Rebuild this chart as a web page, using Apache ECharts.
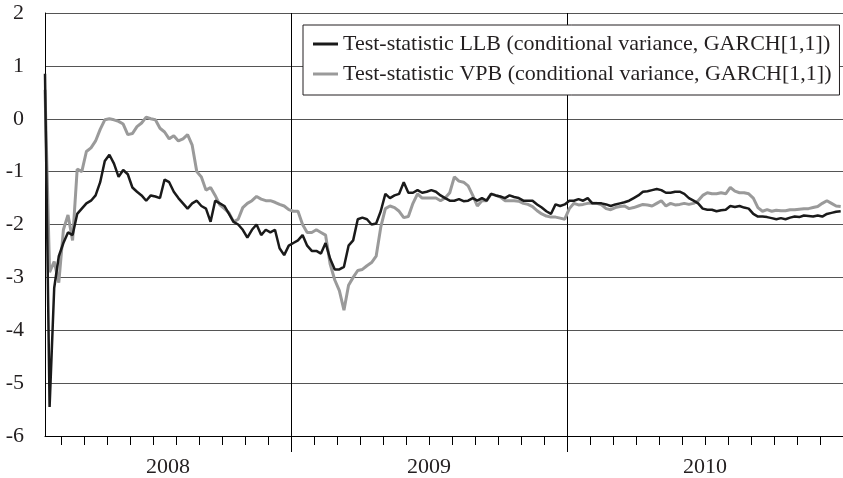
<!DOCTYPE html>
<html>
<head>
<meta charset="utf-8">
<script src="https://cdn.jsdelivr.net/npm/echarts@6/dist/echarts.min.js"></script>
<style>
    html, body {
        margin: 0;
        padding: 0;
        background: #fff;
    }
    #chart {
        width: 843px;
        height: 478px;
    }
</style>
</head>
<body>
<div id="chart"></div>
<script>
    // x runs in months counted from 1 Jan 2008; one value every 0.2 month
    const startMonth = 1.3
    const stepMonth = 0.2
    const endMonth = 36

    const years = ['2008', '2009', '2010']
    const yearStarts = [0, 12, 24]
    const monthTicks = [2, 3, 4, 5, 6, 7, 8, 9, 10, 11, 13, 14, 15, 16, 17, 18, 19, 20, 21, 22, 23,
        25, 26, 27, 28, 29, 30, 31, 32, 33, 34, 35]

    const llbName = 'Test-statistic LLB (conditional variance, GARCH[1,1])'
    const vpbName = 'Test-statistic VPB (conditional variance, GARCH[1,1])'

    const llb = [
        0.85, -5.45, -3.2, -2.6, -2.35, -2.15, -2.2, -1.8, -1.7, -1.6,
        -1.55, -1.45, -1.2, -0.8, -0.68, -0.85, -1.1, -0.97, -1.05, -1.3,
        -1.38, -1.45, -1.55, -1.45, -1.47, -1.5, -1.15, -1.2, -1.38, -1.5,
        -1.6, -1.7, -1.6, -1.55, -1.65, -1.7, -1.95, -1.55, -1.6, -1.65,
        -1.8, -1.95, -2.0, -2.1, -2.25, -2.1, -2.0, -2.2, -2.1, -2.15,
        -2.1, -2.45, -2.58, -2.4, -2.35, -2.3, -2.2, -2.4, -2.5, -2.5,
        -2.55, -2.35, -2.65, -2.85, -2.85, -2.8, -2.4, -2.3, -1.9, -1.87,
        -1.9, -2.0, -1.98, -1.75, -1.42, -1.5, -1.45, -1.42, -1.2, -1.4,
        -1.4, -1.35, -1.4, -1.38, -1.35, -1.38, -1.45, -1.5, -1.55, -1.55,
        -1.52, -1.56, -1.55, -1.5, -1.55, -1.5, -1.55, -1.42, -1.45, -1.47,
        -1.5, -1.45, -1.48, -1.5, -1.55, -1.55, -1.55, -1.62, -1.68, -1.75,
        -1.8, -1.62, -1.65, -1.62, -1.55, -1.55, -1.52, -1.55, -1.5, -1.6,
        -1.6, -1.6, -1.62, -1.65, -1.62, -1.6, -1.58, -1.55, -1.5, -1.45,
        -1.38, -1.37, -1.35, -1.33, -1.35, -1.4, -1.4, -1.38, -1.38, -1.42,
        -1.5, -1.55, -1.6, -1.7, -1.72, -1.72, -1.75, -1.73, -1.72, -1.65,
        -1.67, -1.65, -1.68, -1.7, -1.8, -1.85, -1.85, -1.86, -1.88, -1.9,
        -1.88, -1.9, -1.87, -1.85, -1.86, -1.83, -1.84, -1.85, -1.83, -1.85,
        -1.8, -1.78, -1.76, -1.75
    ]

    const vpb = [
        0.55, -2.9, -2.7, -3.1, -2.1, -1.82, -2.3, -0.95, -1.0, -0.62,
        -0.55, -0.42, -0.2, -0.02, 0.0, -0.02, -0.05, -0.1, -0.3, -0.28,
        -0.15, -0.08, 0.03, 0.0, -0.02, -0.18, -0.25, -0.38, -0.32, -0.42,
        -0.38, -0.3, -0.5, -1.0, -1.1, -1.35, -1.3, -1.45, -1.63, -1.7,
        -1.78, -1.95, -1.9, -1.68, -1.6, -1.55, -1.47, -1.52, -1.55, -1.55,
        -1.58, -1.62, -1.65, -1.72, -1.75, -1.75, -2.0, -2.15, -2.15, -2.1,
        -2.15, -2.2, -2.75, -3.05, -3.25, -3.62, -3.15, -3.0, -2.87, -2.85,
        -2.78, -2.72, -2.6, -2.05, -1.7, -1.65, -1.68, -1.75, -1.87, -1.85,
        -1.6, -1.42, -1.5, -1.5, -1.5, -1.5, -1.55, -1.5, -1.4, -1.1,
        -1.18, -1.2, -1.27, -1.45, -1.65, -1.55, -1.55, -1.42, -1.45, -1.48,
        -1.55, -1.55, -1.55, -1.56, -1.6, -1.62, -1.66, -1.74, -1.8, -1.84,
        -1.86, -1.86, -1.88, -1.9, -1.7, -1.6, -1.63, -1.62, -1.6, -1.6,
        -1.6, -1.63, -1.7, -1.72, -1.68, -1.66, -1.65, -1.7, -1.68, -1.65,
        -1.62, -1.63, -1.65, -1.6, -1.55, -1.65, -1.6, -1.63, -1.62, -1.6,
        -1.62, -1.6, -1.55, -1.45, -1.4, -1.42, -1.42, -1.4, -1.42, -1.3,
        -1.37, -1.4, -1.4, -1.42, -1.5, -1.68, -1.75, -1.72, -1.75, -1.73,
        -1.74, -1.74, -1.72, -1.72, -1.71, -1.7, -1.7, -1.68, -1.66, -1.6,
        -1.55, -1.6, -1.65, -1.66
    ]

    const font = 'Liberation Serif'
    const textColor = '#231f20'

    // [month, value] pairs
    const toPairs = arr => arr.map((v, i) => [startMonth + i * stepMonth, v])

    // year label sits in the middle of the visible part of its year
    const yearCenters = yearStarts.map(s => (Math.max(s, startMonth) + Math.min(s + 12, endMonth)) / 2)

    const chart = echarts.init(document.getElementById('chart'))
    const option = {
        animation: false,
        grid: {
            left: 45,
            right: 0,
            top: 13,
            bottom: 42
        },
        legend: {
            data: [llbName, vpbName],
            orient: 'vertical',
            left: 303,
            top: 25,
            padding: [8, 8, 10, 10],
            itemGap: 8,
            itemWidth: 25,
            itemHeight: 3,
            icon: 'rect',
            backgroundColor: '#fff',
            borderColor: '#231f20',
            borderWidth: 1,
            borderRadius: 0,
            textStyle: {
                fontFamily: font,
                fontSize: 22,
                lineHeight: 22,
                color: textColor
            }
        },
        xAxis: [
            {
                // month ticks and year labels
                type: 'value',
                min: startMonth,
                max: endMonth,
                position: 'bottom',
                axisLine: {
                    show: true,
                    onZero: false,
                    lineStyle: {color: '#000', width: 1}
                },
                axisTick: {
                    show: true,
                    inside: false,
                    length: 9,
                    customValues: monthTicks,
                    lineStyle: {color: '#000'}
                },
                axisLabel: {
                    customValues: yearCenters,
                    margin: 20,
                    fontFamily: font,
                    fontSize: 22,
                    color: textColor,
                    formatter: v => years[yearCenters.findIndex(c => Math.abs(c - v) < 1e-6)]
                },
                splitLine: {show: false}
            },
            {
                // year boundaries: long tick plus vertical line
                type: 'value',
                min: startMonth,
                max: endMonth,
                position: 'bottom',
                axisLine: {show: false, onZero: false},
                axisTick: {
                    show: true,
                    inside: false,
                    length: 16,
                    customValues: yearStarts.filter(s => s > startMonth),
                    lineStyle: {color: '#000'}
                },
                axisLabel: {show: false},
                splitLine: {
                    show: true,
                    lineStyle: {color: '#000', width: 1}
                }
            }
        ],
        yAxis: {
            type: 'value',
            min: -6,
            max: 2,
            interval: 1,
            axisLine: {
                show: true,
                lineStyle: {color: '#000', width: 1}
            },
            axisTick: {show: false},
            axisLabel: {
                margin: 21,
                fontFamily: font,
                fontSize: 22,
                color: textColor
            },
            splitLine: {
                show: true,
                lineStyle: {color: '#555', width: 1}
            }
        },
        series: [
            {
                name: vpbName,
                type: 'line',
                data: toPairs(vpb),
                symbol: 'none',
                color: '#9a9a9a',
                lineStyle: {width: 3, color: '#9a9a9a'},
                z: 2
            },
            {
                name: llbName,
                type: 'line',
                data: toPairs(llb),
                symbol: 'none',
                color: '#1a1a1a',
                lineStyle: {width: 2.5, color: '#1a1a1a'},
                z: 3
            }
        ]
    }
    chart.setOption(option)
</script>
</body>
</html>
